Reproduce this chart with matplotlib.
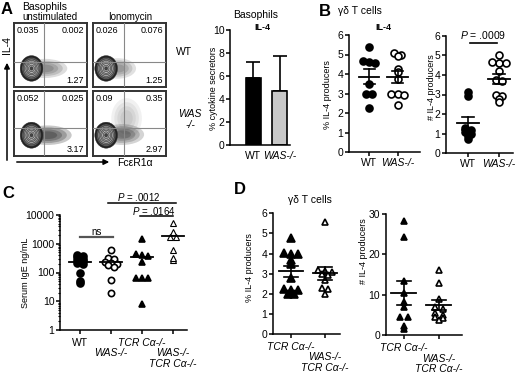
import numpy as np
import matplotlib.pyplot as plt
from matplotlib.patches import Ellipse

plt.rcParams['font.family'] = ['Liberation Sans', 'DejaVu Sans']
plt.rcParams['mathtext.fontset'] = 'custom'
plt.rcParams['mathtext.it'] = 'Liberation Sans:italic'
plt.rcParams['mathtext.rm'] = 'Liberation Sans'

# ---- datos ----
# A: citometria (porcentajes por cuadrante: sup-izq, sup-der, inf-der)
quad_vals = [["0.035", "0.002", "1.27"], ["0.026", "0.076", "1.25"],
             ["0.052", "0.025", "3.17"], ["0.09", "0.35", "2.97"]]
baso_groups = ['WT', 'WAS-/-']
baso_mean = [5.8, 4.7]
baso_err = [1.45, 3.0]

# B: celulas gamma-delta
b_pct_wt = [5.4, 4.65, 4.6, 4.55, 3.5, 3.0, 2.95, 2.25]
b_pct_was = [5.1, 5.0, 4.9, 4.25, 4.1, 3.75, 3.0, 3.0, 2.9, 2.4]
b_num_wt = [3.15, 2.9, 1.3, 1.2, 1.1, 1.0, 0.9, 0.75]
b_num_was = [5.0, 4.6, 4.6, 4.65, 4.2, 3.75, 3.7, 3.0, 2.9, 2.75, 2.6]

# C: IgE serica (ng/mL)
ige_wt = [400, 370, 340, 300, 270, 250, 220, 200, 100, 50, 42]
ige_was = [600, 330, 300, 230, 210, 200, 180, 160, 55, 20]
ige_tcr = [1500, 430, 400, 370, 240, 65, 65, 65, 8]
ige_was_tcr = [5400, 2500, 1750, 1750, 600, 270, 330]
# (posicion del grupo, fila, texto, cursiva)
c_labels = [(1, 0, 'WT', False), (2, 1, 'WAS-/-', True), (3, 0, 'TCR C\u03b1-/-', True),
            (4, 1, 'WAS-/-', True), (4, 2, 'TCR C\u03b1-/-', True)]

# D: gamma-delta en TCR Calfa-/-
d_pct_tcr = [4.75, 4.05, 4.0, 4.0, 3.7, 3.5, 2.8, 2.25, 2.2, 2.2, 2.0, 2.0]
d_pct_was_tcr = [5.55, 3.2, 3.15, 3.1, 3.0, 2.95, 2.7, 2.3, 2.25, 2.0]
d_num_tcr = [28.3, 24.2, 13.5, 10.3, 8.2, 7.0, 4.5, 4.5, 2.3, 1.5]
d_num_was_tcr = [16.2, 13.0, 9.0, 7.0, 6.5, 5.5, 5.0, 4.5, 4.2, 3.7]
d_labels = [(1, 0, 'TCR C\u03b1-/-', True), (2, 1, 'WAS-/-', True),
            (2, 2, 'TCR C\u03b1-/-', True)]

W, H = 520, 373
fig = plt.figure(figsize=(5.2, 3.73), dpi=100)


def box(x0, y0, x1, y1):
    """Ejes a partir de un rectangulo en pixeles (origen arriba-izquierda)"""
    return fig.add_axes([x0 / W, 1 - y1 / H, (x1 - x0) / W, (y1 - y0) / H])


def style(ax, fs=7.5):
    ax.spines['top'].set_visible(False)
    ax.spines['right'].set_visible(False)
    for s in ('left', 'bottom'):
        ax.spines[s].set_linewidth(1.1)
    ax.tick_params(direction='out', length=3, width=1.1, labelsize=fs, pad=1)


def swarm(vals, step, tol, log=False):
    """Desplazamiento horizontal simple para puntos con valores cercanos"""
    v = np.log10(vals) if log else np.asarray(vals, float)
    order = np.argsort(-v)
    off = np.zeros(len(v))
    grp = [order[0]]
    for i in order[1:]:
        if abs(v[grp[0]] - v[i]) <= tol:
            grp.append(i)
        else:
            n = len(grp)
            off[grp] = (np.arange(n) - (n - 1) / 2) * step
            grp = [i]
    n = len(grp)
    off[grp] = (np.arange(n) - (n - 1) / 2) * step
    return off


def dots(ax, pos, vals, marker, filled, ms, step, tol, mew=1.2, log=False,
         sem=True, half=0.36):
    off = swarm(vals, step, tol, log)
    ax.plot(pos + off, vals, ls='none', marker=marker, ms=ms,
            mfc='black' if filled else 'white', mec='black', mew=mew,
            zorder=3, clip_on=False)
    m = np.mean(vals)
    ax.plot([pos - half, pos + half], [m, m], color='k', lw=1.3, zorder=4)
    if sem:
        s = np.std(vals, ddof=1) / np.sqrt(len(vals))
        ax.plot([pos, pos], [m - s, m + s], color='k', lw=1.2, zorder=4)
        for yy in (m - s, m + s):
            ax.plot([pos - 0.2, pos + 0.2], [yy, yy], color='k', lw=1.2, zorder=4)


def italic_ticks(ax, idx):
    for i, t in enumerate(ax.get_xticklabels()):
        if i in idx:
            t.set_style('italic')


def group_labels(ax, labels, first=12, step=10.5):
    """Etiquetas de grupo escalonadas bajo el eje x"""
    ax.set_xticklabels([''] * len(ax.get_xticks()))
    for pos, row, txt, it in labels:
        ax.annotate(txt, xy=(pos, 0), xycoords=ax.get_xaxis_transform(),
                    xytext=(0, -(first + row * step)), textcoords='offset pixels',
                    ha='center', va='center', fontsize=7.5,
                    style='italic' if it else 'normal', annotation_clip=False)


# ---- A: graficos de citometria ----
flow_boxes = [(14, 23, 87, 87), (93, 23, 166, 87), (14, 91, 87, 156), (93, 91, 166, 156)]
quad_x = [0.41, 0.42, 0.41, 0.42]
quad_y = [0.39, 0.39, 0.43, 0.43]
blob_c = [(0.24, 0.29), (0.18, 0.29), (0.24, 0.32), (0.18, 0.32)]
tails = [[(0.42, 0.29, 0.62, 0.30, 0.40)],
         [(0.34, 0.29, 0.50, 0.32, 0.35)],
         [(0.46, 0.32, 0.66, 0.30, 0.65)],
         [(0.40, 0.33, 0.60, 0.32, 0.50), (0.46, 0.58, 0.42, 0.62, 0.16)]]
rings = [(1.0, '#222222'), (0.86, '#5a5a5a'), (0.74, '#858585'), (0.62, '#a4a4a4'),
         (0.5, '#909090'), (0.38, '#b8b8b8'), (0.26, '#969696'), (0.12, '#444444')]

for k, (x0, y0, x1, y1) in enumerate(flow_boxes):
    ax = box(x0, y0, x1, y1)
    ax.set_xlim(0, 1)
    ax.set_ylim(0, 1)
    ax.set_xticks([])
    ax.set_yticks([])
    for s in ax.spines.values():
        s.set_linewidth(1.4)
        s.set_color('#333333')
    for tx, ty, tw, th, ta in tails[k]:
        for f in (1.0, 0.8, 0.6, 0.4):
            ax.add_patch(Ellipse((tx, ty), tw * f, th * f, color='k',
                                 alpha=ta / 3, lw=0))
    cx, cy = blob_c[k]
    for f, col in rings:
        ax.add_patch(Ellipse((cx, cy), 0.31 * f, 0.40 * f, fc=col,
                             ec='#222222', lw=0.3, zorder=3))
    ax.axvline(quad_x[k], color='#888888', lw=0.8, zorder=5)
    ax.axhline(quad_y[k], color='#888888', lw=0.8, zorder=5)
    tl, tr, br = quad_vals[k]
    ax.text(0.04, 0.88, tl, fontsize=6.5, ha='left', va='center', zorder=6)
    ax.text(0.96, 0.88, tr, fontsize=6.5, ha='right', va='center', zorder=6)
    ax.text(0.96, 0.10, br, fontsize=6.5, ha='right', va='center', zorder=6)

# ---- A: barras basofilos ----
ax = box(230, 30, 290, 145)
style(ax)
ax.bar([1, 2], baso_mean, width=0.56, color=['black', '#c8c8c8'],
       edgecolor='black', lw=1.2, zorder=2)
ax.errorbar([1, 2], baso_mean, yerr=[[0, 0], baso_err], fmt='none',
            ecolor='black', elinewidth=1.2, capsize=5, capthick=1.2, zorder=1)
ax.set_xlim(0.13, 2.39)
ax.set_ylim(0, 10)
ax.set_yticks([0, 2, 4, 6, 8, 10])
ax.set_xticks([1, 2])
ax.set_xticklabels(baso_groups)
ax.tick_params(axis='x', length=0, pad=4)
italic_ticks(ax, [1])

# ---- B ----
ax = box(349, 35, 420, 152)
style(ax)
dots(ax, 1, b_pct_wt, 'o', True, 5, 0.22, 0.12)
dots(ax, 2, b_pct_was, 'o', False, 5, 0.22, 0.12)
ax.set_xlim(0.286, 2.79)
ax.set_ylim(0, 6)
ax.set_yticks(range(7))
ax.set_xticks([1, 2])
ax.set_xticklabels(['WT', 'WAS-/-'])
italic_ticks(ax, [1])

ax = box(446, 35.7, 513, 153.3)
style(ax)
dots(ax, 1, b_num_wt, 'o', True, 5, 0.22, 0.12)
dots(ax, 2, b_num_was, 'o', False, 5, 0.22, 0.12)
ax.set_xlim(0.29, 2.45)
ax.set_ylim(0, 6)
ax.set_yticks(range(7))
ax.set_xticks([1, 2])
ax.set_xticklabels(['WT', 'WAS-/-'])
italic_ticks(ax, [1])
ax.plot([1.05, 1.95], [5.62, 5.62], color='k', lw=1.2, clip_on=False)
ax.text(1.5, 6.03, '$\\it{P}$ = .0009', fontsize=7.5, ha='center', va='center')

# ---- C ----
ax = box(60, 215, 187, 330)
style(ax, 7.5)
ax.set_yscale('log')
dots(ax, 1, ige_wt, 'o', True, 5, 0.2, 0.07, log=True, sem=False)
dots(ax, 2, ige_was, 'o', False, 4.5, 0.2, 0.07, log=True, sem=False)
dots(ax, 3, ige_tcr, '^', True, 4.5, 0.2, 0.07, log=True, sem=False)
dots(ax, 4, ige_was_tcr, '^', False, 3.8, 0.2, 0.07, mew=0.8, log=True, sem=False)
ax.set_ylim(1, 10000)
ax.set_xlim(0.355, 4.45)
ax.set_yticks([1, 10, 100, 1000, 10000])
ax.set_yticklabels(['1', '10', '100', '1000', '10000'])
ax.tick_params(axis='y', which='minor', length=1.6, width=0.8)
ax.set_xticks([1, 2, 3, 4])
group_labels(ax, c_labels, first=13)
ax.plot([1, 2.05], [1760, 1760], color='#555555', lw=1.6, clip_on=False)
ax.text(1.52, 2600, 'ns', fontsize=7, ha='center', va='center')
ax.plot([2.95, 4.0], [9300, 9300], color='k', lw=1.1, clip_on=False)
ax.text(3.39, 13500, '$\\it{P}$ = .0164', fontsize=7, ha='center', va='center')
ax.plot([1.9, 4.1], [25600, 25600], color='k', lw=1.1, clip_on=False)
ax.text(2.9, 41000, '$\\it{P}$ = .0012', fontsize=7, ha='center', va='center')

# ---- D ----
ax = box(273, 213.3, 340, 334)
style(ax)
dots(ax, 1, d_pct_tcr, '^', True, 6, 0.2, 0.12)
dots(ax, 2, d_pct_was_tcr, '^', False, 4.5, 0.2, 0.12)
ax.set_xlim(0.47, 2.44)
ax.set_ylim(0, 6)
ax.set_yticks(range(7))
ax.set_xticks([1, 2])
group_labels(ax, d_labels, first=13)

ax = box(385.7, 214, 462, 335)
style(ax)
dots(ax, 1, d_num_tcr, '^', True, 4.5, 0.22, 0.6)
dots(ax, 2, d_num_was_tcr, '^', False, 4.5, 0.22, 0.6)
ax.set_xlim(0.486, 2.66)
ax.set_ylim(0, 30)
ax.set_yticks([0, 10, 20, 30])
ax.set_xticks([1, 2])
group_labels(ax, d_labels, first=13)

# ---- textos y flechas (coordenadas en pixeles) ----
ov = fig.add_axes([0, 0, 1, 1])
ov.set_xlim(0, W)
ov.set_ylim(H, 0)
ov.axis('off')
ov.patch.set_alpha(0)

for letter, x, y in [('A', 7, 10), ('B', 325, 11), ('C', 8, 193), ('D', 240, 190)]:
    ov.text(x, y, letter, fontsize=12, weight='bold', ha='center', va='center')

ov.text(22, 7, 'Basophils', fontsize=7.5, ha='left', va='center')
ov.text(50, 17, 'unstimulated', fontsize=7, ha='center', va='center')
ov.text(130, 17, 'Ionomycin', fontsize=7, ha='center', va='center')
ov.text(184, 52, 'WT', fontsize=7.5, ha='center', va='center')
ov.text(190, 114, 'WAS', fontsize=7.5, ha='center', va='center', style='italic')
ov.text(190, 125, '-/-', fontsize=7.5, ha='center', va='center', style='italic')
ov.annotate('', xy=(7, 60), xytext=(7, 163),
            arrowprops=dict(arrowstyle='-|>', lw=1.1, color='k', mutation_scale=8))
ov.annotate('', xy=(112, 162), xytext=(14, 162),
            arrowprops=dict(arrowstyle='-|>', lw=1.1, color='k', mutation_scale=8))
ov.text(7, 45, 'IL-4', fontsize=7.5, rotation=90, ha='center', va='center')
ov.text(117, 163, 'Fc\u03b5R1\u03b1', fontsize=7.5, ha='left', va='center')

ov.text(256, 15, 'Basophils', fontsize=7.5, ha='center', va='center')
ov.text(262, 27, 'IL-4', fontsize=6.5, weight='bold', ha='center', va='center')
ov.text(338, 11, '\u03b3\u03b4 T cells', fontsize=7.5, ha='left', va='center')
ov.text(383, 28, 'IL-4', fontsize=6.5, weight='bold', ha='center', va='center')
ov.text(310, 200, '\u03b3\u03b4 T cells', fontsize=7.5, ha='center', va='center')

for txt, x, y in [('% cytokine secretors', 213, 88), ('% IL-4 producers', 327, 95),
                  ('# IL-4 producers', 431, 87), ('Serum IgE ng/mL', 25, 273),
                  ('% IL-4 producers', 250, 268), ('# IL-4 producers', 363, 251)]:
    ov.text(x, y, txt, fontsize=6.5, rotation=90, ha='center', va='center')

fig.savefig('out.png', dpi=100)
